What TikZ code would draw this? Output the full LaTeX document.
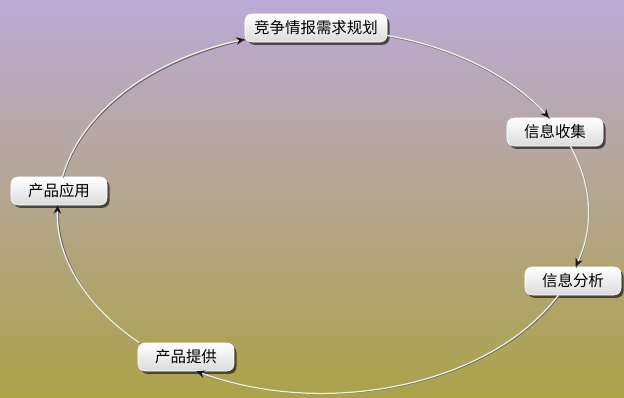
\documentclass[tikz,border=0pt]{standalone}
\usepackage{fontspec}
\newfontfamily\cjk{Noto Sans CJK SC}
\usepackage{xcolor}
\usepackage{tikz}
\usetikzlibrary{arrows.meta, shadows}
\definecolor{bgtop}{RGB}{188,170,214}
\definecolor{bgmid}{RGB}{180,166,140}
\definecolor{bgbottom}{RGB}{172,162,72}
\definecolor{loopline}{RGB}{240,238,230}

\begin{document}
\begin{tikzpicture}[
    x=0.025cm, y=0.025cm,
    stage/.style={rounded corners=5pt, top color=white, bottom color=black!14, draw=white, minimum width=2.4cm, minimum height=0.7cm, inner sep=2pt, font=\cjk\fontsize{11}{13}\selectfont, drop shadow={shadow xshift=1.8pt, shadow yshift=-2pt, fill=black!85, opacity=0.75}},
    flow/.style={-{Stealth[length=2.1mm, width=1.9mm, color=black!90]}, line width=0.9pt, draw=loopline, preaction={draw=black!60, -, line width=0.8pt, transform canvas={xshift=0.5pt, yshift=-0.6pt}}}
]
    \useasboundingbox (0,0) rectangle (624,397);
    \shade[top color=bgtop, middle color=bgmid, bottom color=bgbottom] (0,0) rectangle (624,397);

    \node[stage, minimum width=3.55cm] (plan) at (316,369) {竞争情报需求规划};
    \node[stage] (collect) at (555,265) {信息收集};
    \node[stage] (analyze) at (573,116) {信息分析};
    \node[stage] (supply) at (186,40) {产品提供};
    \node[stage] (apply) at (59,206) {产品应用};

    \draw[flow] (plan.-6) to[out=-10, in=132, out looseness=0.97, in looseness=0.77] (collect.113);
    \draw[flow] (collect.-43) to[out=-60, in=65, looseness=0.93] (analyze.80);
    \draw[flow] (analyze.-136) to[out=-127, in=-20, out looseness=0.78, in looseness=0.96] (supply.-54);
    \draw[flow] (supply.163) to[out=146, in=-93, out looseness=1.03, in looseness=0.82] (apply.-95);
    \draw[flow] (apply.76) to[out=74, in=-168, out looseness=0.76, in looseness=1.07] (plan.189);
\end{tikzpicture}
\end{document}
